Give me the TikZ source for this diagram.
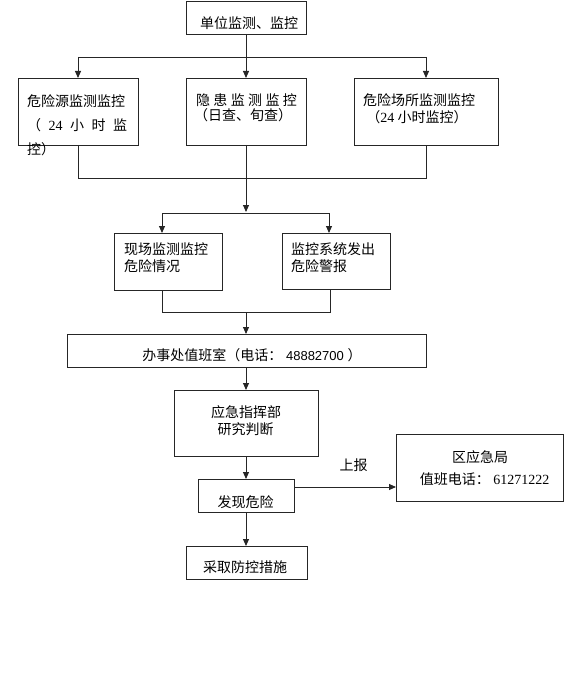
\documentclass[tikz,border=0pt]{standalone}
\usepackage{fontspec}
\setmainfont{Noto Sans CJK SC}
\newfontfamily\serifdig{Liberation Serif}
\newfontfamily\sansdig{Liberation Sans}
\usetikzlibrary{arrows.meta}
\begin{document}
\begin{tikzpicture}[x=1pt,y=-1pt,
  box/.style={draw=black!85, line width=0.9pt, inner sep=0pt, outer sep=0pt, anchor=north west},
  txt/.style={inner sep=0pt, font=\fontsize{14}{17}\selectfont},
  ln/.style={draw=black!85, line width=0.9pt},
  arr/.style={ln, -{Triangle[length=7pt,width=6pt]}}]
\useasboundingbox (0,0) rectangle (564,679);
% boxes
\node[box, minimum width=120pt, minimum height=33pt] (t) at (186,1) {};
\node[box, minimum width=120pt, minimum height=67pt] (b1) at (18,78) {};
\node[box, minimum width=120pt, minimum height=67pt] (b2) at (186,78) {};
\node[box, minimum width=144pt, minimum height=67pt] (b3) at (354,78) {};
\node[box, minimum width=108pt, minimum height=57pt] (c1) at (114,233) {};
\node[box, minimum width=108pt, minimum height=56pt] (c2) at (282,233) {};
\node[box, minimum width=359pt, minimum height=33pt] (d) at (67,334) {};
\node[box, minimum width=144pt, minimum height=66pt] (e) at (174,390) {};
\node[box, minimum width=96pt, minimum height=33pt] (f) at (198,479) {};
\node[box, minimum width=167pt, minimum height=67pt] (g) at (396,434) {};
\node[box, minimum width=121pt, minimum height=33pt] (h) at (186,546) {};
% junction coordinates
\coordinate (j1) at (246,57);
\coordinate (j1l) at (78,57);
\coordinate (j1r) at (426,57);
\coordinate (j2l) at (78,178);
\coordinate (j2r) at (426,178);
\coordinate (j3) at (246,213);
\coordinate (j3l) at (162,213);
\coordinate (j3r) at (329,213);
\coordinate (j4l) at (162,312);
\coordinate (j4r) at (330,312);
\coordinate (j4) at (246,312);
\coordinate (fr) at (294,487);
% connectors
\draw[ln] (t.south) -- (j1);
\draw[ln] (j1l) -- (j1r);
\draw[arr] (j1l) -- (b1.north);
\draw[arr] (j1) -- (b2.north);
\draw[arr] (j1r) -- (b3.north);
\draw[ln] (b1.south) -- (j2l) -- (j2r) -- (b3.south);
\draw[arr] (b2.south) -- ([yshift=1pt]j3);
\draw[ln] (j3l) -- (j3r);
\draw[arr] (j3l) -- (j3l |- c1.north);
\draw[arr] (j3r) -- (j3r |- c2.north);
\draw[ln] (j3l |- c1.south) -- (j4l) -- (j4r) -- (j4r |- c2.south);
\draw[arr] (j4) -- (j4 |- d.north);
\draw[arr] (e.north |- d.south) -- (e.north);
\draw[arr] (e.south) -- (f.north);
\draw[arr] (fr) -- (fr -| g.west);
\draw[arr] (f.south) -- (f.south |- h.north);
% texts
\node[txt] (tt) at (249,23) {单位监测、监控};
\node[txt, anchor=west] (b1a) at (27,101) {危险源监测监控};
\node[txt, anchor=west] (b1b) at (27,125) {\makebox[100pt][s]{（\hfill{\serifdig 24}\hfill 小\hfill 时\hfill 监}};
\node[txt, anchor=west] (b1c) at (27,149) {控）};
\node[txt] (b2a) at (246.5,100) {\makebox[101pt][s]{隐\hfill 患\hfill 监\hfill 测\hfill 监\hfill 控}};
\node[txt] (b2b) at (243,115) {（日查、旬查）};
\node[txt] (b3a) at (419,100) {危险场所监测监控};
\node[txt] (b3b) at (417,117) {（{\serifdig 24} 小时监控）};
\node[txt, anchor=west] (c1a) at (124,249) {现场监测监控};
\node[txt, anchor=west] (c1b) at (124,266) {危险情况};
\node[txt, anchor=west] (c2a) at (291,249) {监控系统发出};
\node[txt, anchor=west] (c2b) at (291,266) {危险警报};
\node[txt] (dt) at (252,355) {办事处值班室（电话：{\sansdig\fontsize{13}{15}\selectfont\ 48882700 }）};
\node[txt] (ea) at (246,412) {应急指挥部};
\node[txt] (eb) at (245.5,429) {研究判断};
\node[txt] (ft) at (245.5,502) {发现危险};
\node[txt] (ga) at (480,457) {区应急局};
\node[txt] (gb) at (484.5,479) {值班电话：{\serifdig\ 61271222}};
\node[txt] (ht) at (245,567) {采取防控措施};
\node[txt] (sb) at (353.5,465) {上报};
\end{tikzpicture}
\end{document}
